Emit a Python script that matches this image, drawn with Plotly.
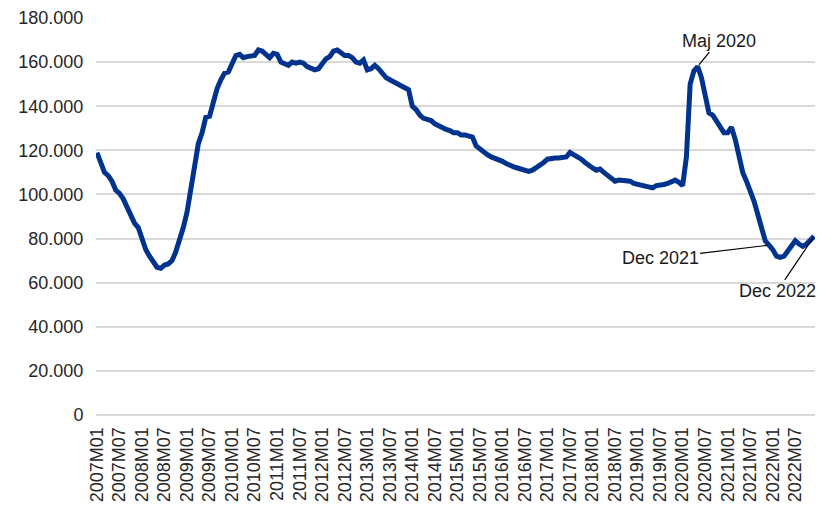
import plotly.graph_objects as go

# Monthly series 2007M01 - 2022M12
months = [f"{year}M{month:02d}" for year in range(2007, 2023) for month in range(1, 13)]

values = [
    # 2007
    119000, 115000, 110000, 108500, 106000, 102000, 100500, 98000, 94000, 91000, 87000, 85000,
    # 2008
    80000, 75000, 72000, 69000, 67000, 66500, 68000, 68500, 70000, 74000, 79000, 85000,
    # 2009
    92000, 102000, 112000, 123000, 128000, 135000, 135500, 142000, 148000, 152000, 155000, 155500,
    # 2010
    160000, 163000, 163500, 162000, 162500, 163000, 163000, 165500, 165000, 163500, 162000, 164000,
    # 2011
    163500, 160000, 159000, 158500, 160000, 159500, 160000, 159500, 158000, 157000, 156500, 157000,
    # 2012
    159500, 161500, 162500, 165000, 165500, 164000, 163000, 163000, 162000, 160000, 159500, 161000,
    # 2013
    156500, 157000, 158500, 157000, 155000, 153000, 152000, 151000, 150000, 149000, 148000, 147500,
    # 2014
    140000, 138500, 136000, 134500, 134000, 133500, 132000, 131000, 130500, 129500, 129000, 128000,
    # 2015
    128000, 127000, 127000, 126500, 126000, 122000, 120500, 119500, 118000, 117000, 116500, 116000,
    # 2016
    115000, 114000, 113000, 112500, 112000, 111500, 111000, 110500, 111000, 112000, 113000, 114500,
    # 2017
    116000, 116500, 116500, 116500, 116500, 117000, 119000, 118000, 117500, 116000, 114500, 113000,
    # 2018
    112000, 111000, 111500, 110000, 108500, 107000, 106000, 106500, 106500, 106500, 106000, 105000,
    # 2019
    104500, 104000, 103500, 103000, 103000, 104000, 104000, 104500, 105000, 105500, 106500, 105500,
    # 2020
    104000, 117000, 150000, 156000, 158000, 153000, 145000, 137000, 136000, 133000, 130000, 128000,
    # 2021
    128000, 130500, 125000, 118000, 110000, 106000, 102000, 97000, 91000, 84000, 79000, 77000,
    # 2022
    75000, 72000, 71500, 72000, 74500, 77000, 79000, 77500, 76500, 77500, 79500, 81000,
]

tick_labels = months[::6]

callouts = [
    ("2020M05", "Maj 2020", 21, -26),
    ("2021M12", "Dec 2021", -109, 13),
    ("2022M12", "Dec 2022", -37, 55),
]

fig = go.Figure()
fig.add_trace(go.Scatter(
    x=months,
    y=values,
    mode="lines",
    line={"color": "#00338D", "width": 5},
    hoverinfo="x+y",
))

point_of = dict(zip(months, values))
for month, text, ax, ay in callouts:
    fig.add_annotation(
        x=month, y=point_of[month], text=text,
        showarrow=True, arrowhead=0, arrowwidth=1.2, arrowcolor="#000000",
        ax=ax, ay=ay, standoff=2,
        font={"size": 18, "color": "#1a1a1a"},
    )

fig.update_layout(
    width=817,
    height=505,
    margin={"l": 96, "r": 2, "t": 18, "b": 90},
    paper_bgcolor="#FFFFFF",
    plot_bgcolor="#FFFFFF",
    font={"family": "Liberation Sans, Arial, sans-serif", "size": 18, "color": "#262626"},
    separators=",.",
    showlegend=False,
)
fig.update_xaxes(
    type="category",
    range=[-0.25, 191.25],
    tickmode="array",
    tickvals=tick_labels,
    ticktext=tick_labels,
    tickangle=-90,
    ticks="outside",
    ticklen=4,
    tickcolor="rgba(0,0,0,0)",
    showgrid=False,
    showline=False,
    zeroline=False,
    automargin=False,
)
fig.update_yaxes(
    range=[0, 180000],
    tick0=0,
    dtick=20000,
    tickformat=",d",
    showgrid=True,
    gridcolor="#D9D9D9",
    gridwidth=1.5,
    zeroline=True,
    zerolinecolor="#D9D9D9",
    zerolinewidth=1.5,
    showline=False,
    ticks="outside",
    ticklen=8,
    tickcolor="rgba(0,0,0,0)",
    automargin=False,
)

# drop the default body margin so the figure fills the window exactly
fig.write_html(
    "out.html",
    config={"displayModeBar": False},
    post_script="document.body.style.margin = '0';",
)
